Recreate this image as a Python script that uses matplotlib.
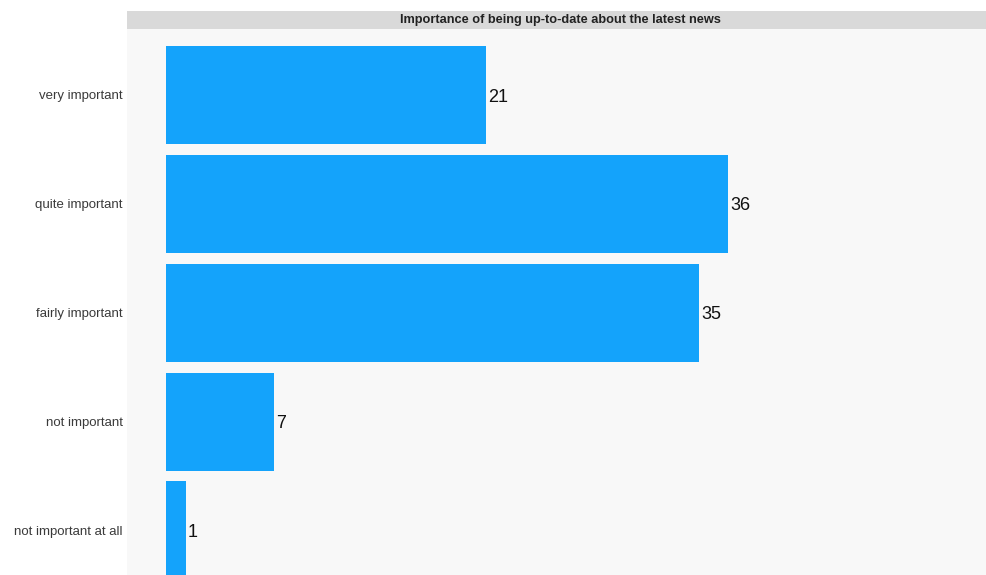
import matplotlib
matplotlib.use("Agg")
import matplotlib.pyplot as plt
from matplotlib.patches import Rectangle

categories = ["very important", "quite important", "fairly important",
              "not important", "not important at all"]
values = [21.0, 36.9, 35.0, 7.1, 1.3]
value_labels = ["21", "36", "35", "7", "1"]
title = "Importance of being up-to-date about the latest news"

plt.rcParams["font.family"] = ["Liberation Sans", "DejaVu Sans"]

W, H = 986, 575
fig = plt.figure(figsize=(W / 100, H / 100), dpi=100)
fig.patch.set_facecolor("white")

ax = fig.add_axes([127 / W, 0, 859 / W, 546 / H])
ax.set_facecolor("#f8f8f8")

pos = list(range(len(categories)))
ax.barh(pos, values, height=0.9, color="#14a3fb")
for y, v, lab in zip(pos, values, value_labels):
    ax.text(v + 0.15, y + 0.02, lab, va="center", ha="left", fontsize=13, color="#111111")

ax.set_xlim(-2.56, 53.8)
ax.set_ylim(4.41, -0.606)
ax.set_yticks(pos)
ax.set_yticklabels(categories, fontsize=9.5, color="#3a3a3a")
ax.tick_params(axis="y", length=0, pad=3)
ax.set_xticks([])
for s in ax.spines.values():
    s.set_visible(False)

# grey title strip above the panel
fig.patches.append(Rectangle((127 / W, 1 - 29 / H), 859 / W, 18 / H,
                             transform=fig.transFigure, facecolor="#d9d9d9",
                             edgecolor="none"))
fig.text(560 / W, 1 - 20 / H, title, ha="center", va="center",
         fontsize=9.2, fontweight="bold", color="#222222")

fig.savefig("out.png", dpi=100)
plt.close(fig)
